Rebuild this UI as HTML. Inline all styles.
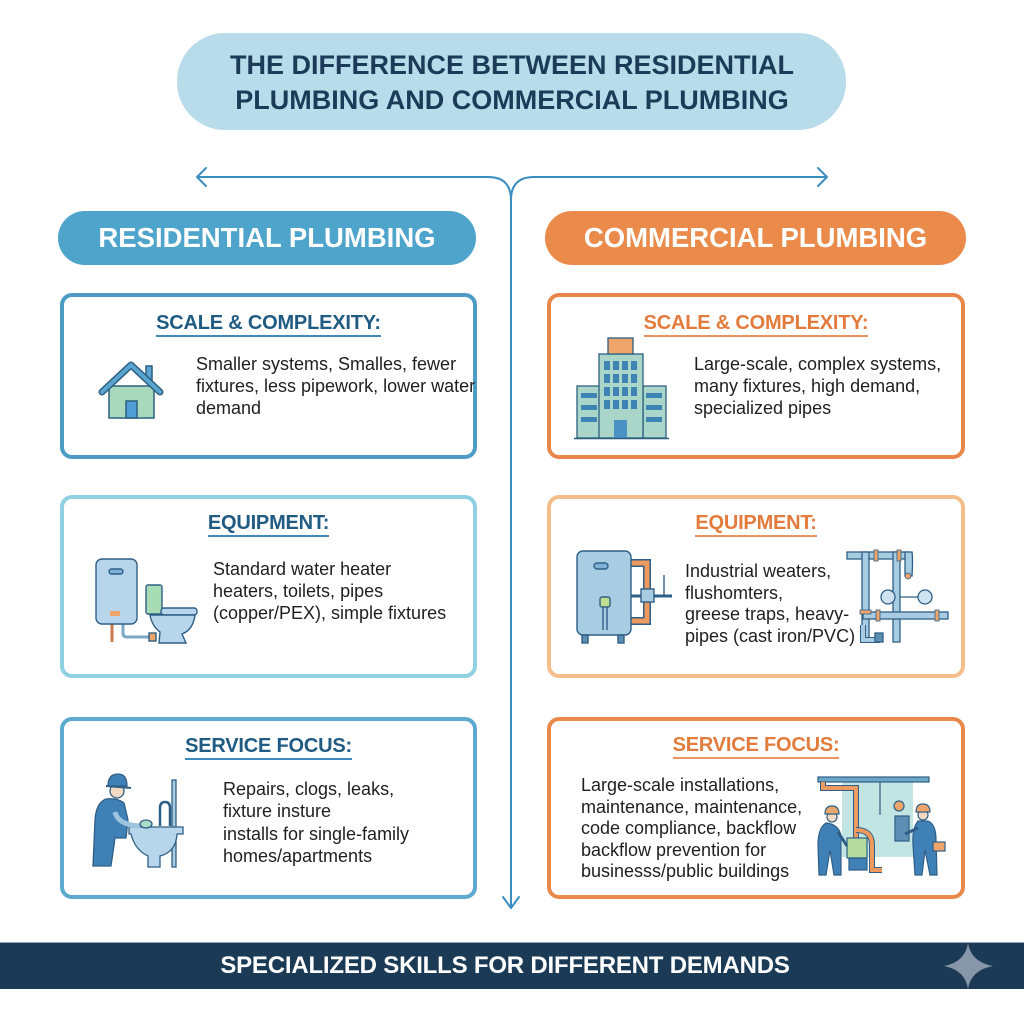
<!DOCTYPE html>
<html>
<head>
<meta charset="utf-8">
<style>
  html, body { margin:0; padding:0; }
  body { width:1024px; height:1024px; overflow:hidden; background:#ffffff; position:relative; font-family:"Liberation Sans", "DejaVu Sans", sans-serif; }
  .abs { position:absolute; }
  .pill { position:absolute; border-radius:30px; }
  .box { position:absolute; box-sizing:border-box; background:#fff; border-radius:12px; border-style:solid; border-width:4.5px; }
  .hdr { position:absolute; left:0; width:100%; text-align:center; font-weight:bold; font-size:20px; line-height:24px; }
  .hdr span { display:inline-block; border-bottom:2px solid; letter-spacing:-0.2px; }
  .txt { position:absolute; font-size:18px; line-height:22px; color:#1f1f1f; white-space:nowrap; }
  .lb .hdr { color:#1f5b82; }
  .lb .hdr span { border-color:#3d8abb; }
  .rb .hdr { color:#e27b3c; }
  .rb .hdr span { border-color:#ea9460; }
</style>
</head>
<body>

<!-- Title pill -->
<div class="pill" style="left:177px; top:33px; width:669px; height:97px; border-radius:48px; background:#b8dcea;"></div>
<div class="abs" style="left:0; top:48px; width:1024px; text-align:center; font-weight:bold; font-size:27px; line-height:35px; color:#1b3b58;">THE DIFFERENCE BETWEEN RESIDENTIAL<br>PLUMBING AND COMMERCIAL PLUMBING</div>

<!-- Section pills -->
<div class="pill" style="left:58px; top:211px; width:418px; height:54px; border-radius:27px; background:#4ea4ca;"></div>
<div class="abs" style="left:58px; top:211px; width:418px; height:54px; line-height:54px; text-align:center; color:#fff; font-weight:bold; font-size:27.5px;">RESIDENTIAL PLUMBING</div>
<div class="pill" style="left:545px; top:211px; width:421px; height:54px; border-radius:27px; background:#ea8b4b;"></div>
<div class="abs" style="left:545px; top:211px; width:421px; height:54px; line-height:54px; text-align:center; color:#fff; font-weight:bold; font-size:27.5px;">COMMERCIAL PLUMBING</div>

<!-- Left boxes -->
<div class="box lb" style="left:60px; top:293px; width:417px; height:166px; border-color:#4d9cc6;">
  <div class="hdr" style="top:13.5px;"><span>SCALE &amp; COMPLEXITY:</span></div>
</div>
<div class="box lb" style="left:60px; top:495px; width:417px; height:183px; border-color:#8fd0e2;">
  <div class="hdr" style="top:11.5px;"><span>EQUIPMENT:</span></div>
</div>
<div class="box lb" style="left:60px; top:717px; width:417px; height:182px; border-color:#5ea9d0;">
  <div class="hdr" style="top:12.5px;"><span>SERVICE FOCUS:</span></div>
</div>

<!-- Right boxes -->
<div class="box rb" style="left:547px; top:293px; width:418px; height:166px; border-color:#e8874b;">
  <div class="hdr" style="top:13.5px;"><span>SCALE &amp; COMPLEXITY:</span></div>
</div>
<div class="box rb" style="left:547px; top:495px; width:418px; height:183px; border-color:#f4bd8c;">
  <div class="hdr" style="top:11.5px;"><span>EQUIPMENT:</span></div>
</div>
<div class="box rb" style="left:547px; top:717px; width:418px; height:182px; border-color:#e98a4c;">
  <div class="hdr" style="top:11.5px;"><span>SERVICE FOCUS:</span></div>
</div>

<!-- Body text -->
<div class="txt" style="left:196px; top:353px;">Smaller systems, Smalles, fewer<br>fixtures, less pipework, lower water<br>demand</div>
<div class="txt" style="left:213px; top:558px;">Standard water heater<br>heaters, toilets, pipes<br>(copper/PEX), simple fixtures</div>
<div class="txt" style="left:223px; top:778px; line-height:22.3px;">Repairs, clogs, leaks,<br>fixture insture<br>installs for single-family<br>homes/apartments</div>

<div class="txt" style="left:694px; top:353px;">Large-scale, complex systems,<br>many fixtures, high demand,<br>specialized pipes</div>
<div class="txt" style="left:685px; top:561px; line-height:21.7px;">Industrial weaters,<br>flushomters,<br>greese traps, heavy-<br>pipes (cast iron/PVC)</div>
<div class="txt" style="left:581px; top:775px; line-height:21.5px;">Large-scale installations,<br>maintenance, maintenance,<br>code compliance, backflow<br>backflow prevention for<br>businesss/public buildings</div>

<!-- Bottom bar -->
<div class="abs" style="left:0; top:942px; width:1024px; height:47px; background:#1b3a56; border-top:1px solid #8eaac0; box-sizing:border-box;"></div>
<div class="abs" style="left:0; top:942px; width:1010px; height:47px; line-height:48px; text-align:center; color:#fff; font-weight:bold; font-size:24px; letter-spacing:-0.2px;">SPECIALIZED SKILLS FOR DIFFERENT DEMANDS</div>

<!-- Graphics -->
<svg class="abs" style="left:0; top:0;" width="1024" height="1024" viewBox="0 0 1024 1024">
  <!-- connectors -->
  <g fill="none" stroke="#3b8ec0" stroke-width="2" stroke-linecap="round" stroke-linejoin="round">
    <path d="M198 177 H488 Q511 177 511 200"/>
    <path d="M826 177 H534 Q511 177 511 200"/>
    <path d="M511 200 V908"/>
    <polyline points="206,168 197,177 206,186"/>
    <polyline points="818,168 827,177 818,186"/>
    <polyline points="503,897 511,908 519,897"/>
  </g>

  <!-- sparkle -->
  <path d="M968 943 Q971 962 993 966 Q971 970 968 989 Q965 970 944 966 Q965 962 968 943 Z" fill="#8796a8"/>

  <!-- House icon -->
  <g stroke="#2c5f80" stroke-width="1.5">
    <rect x="146" y="366" width="6" height="14" fill="#5aa5d0"/>
    <rect x="109" y="386" width="45" height="32" fill="#a9d9bc"/>
    <rect x="126" y="401" width="11" height="17" fill="#4f9fd6"/>
  </g>
  <polyline points="102,392 131,365 160,392" fill="none" stroke="#2c5f80" stroke-width="7" stroke-linejoin="round" stroke-linecap="round"/>
  <polyline points="102,392 131,365 160,392" fill="none" stroke="#5aa5d0" stroke-width="4" stroke-linejoin="round" stroke-linecap="round"/>

  <!-- Building icon -->
  <g stroke="#2c5f7f" stroke-width="1.3">
    <rect x="577" y="386" width="23" height="52" fill="#a9d6c9"/>
    <rect x="643" y="386" width="23" height="52" fill="#a9d6c9"/>
    <rect x="599" y="354" width="44" height="84" fill="#a9d6c9"/>
    <rect x="608" y="338" width="25" height="16" fill="#eea56c"/>
  </g>
  <g fill="#3d84b5">
    <rect x="604" y="361" width="6" height="9"/><rect x="613" y="361" width="6" height="9"/><rect x="622" y="361" width="6" height="9"/><rect x="631" y="361" width="6" height="9"/>
    <rect x="604" y="374" width="6" height="9"/><rect x="613" y="374" width="6" height="9"/><rect x="622" y="374" width="6" height="9"/><rect x="631" y="374" width="6" height="9"/>
    <rect x="604" y="387" width="6" height="9"/><rect x="613" y="387" width="6" height="9"/><rect x="622" y="387" width="6" height="9"/><rect x="631" y="387" width="6" height="9"/>
    <rect x="604" y="400" width="6" height="9"/><rect x="613" y="400" width="6" height="9"/><rect x="622" y="400" width="6" height="9"/><rect x="631" y="400" width="6" height="9"/>
    <rect x="581" y="393" width="16" height="5"/><rect x="581" y="405" width="16" height="5"/><rect x="581" y="417" width="16" height="5"/>
    <rect x="646" y="393" width="16" height="5"/><rect x="646" y="405" width="16" height="5"/><rect x="646" y="417" width="16" height="5"/>
    <rect x="614" y="420" width="13" height="18" fill="#4a91c4"/>
  </g>
  <line x1="574" y1="438.5" x2="669" y2="438.5" stroke="#2c5f7f" stroke-width="1.5"/>

  <!-- Left equipment: water heater + toilet -->
  <g stroke="#2f5f86" stroke-width="1.4">
    <line x1="112" y1="623" x2="112" y2="642" stroke="#c77b4a" stroke-width="3"/>
    <path d="M123 623 V633 Q123 637 127 637 H152" fill="none" stroke="#7aa7c8" stroke-width="3"/>
    <rect x="96" y="559" width="41" height="65" rx="6" fill="#b7d6ec"/>
    <rect x="109" y="569" width="14" height="5" rx="2.5" fill="#7fb1d6"/>
    <rect x="110" y="611" width="10" height="5" fill="#eea56c" stroke="none"/>
    <rect x="146" y="585" width="16" height="29" rx="2" fill="#a8dcb5"/>
    <rect x="161" y="608" width="36" height="7" rx="3" fill="#b7d6ec"/>
    <path d="M150 615 H195 Q193 630 182 634 L186 643 H159 L160 632 Q152 626 150 615 Z" fill="#b7d6ec"/>
    <rect x="149" y="633" width="7" height="8" fill="#eea56c"/>
  </g>

  <!-- Right equipment: industrial heater -->
  <g stroke="#2f5f86" stroke-width="1.4">
    <path d="M630 563 H647 V621 H630" fill="none" stroke="#2f5f86" stroke-width="8"/>
    <path d="M630 563 H647 V621 H630" fill="none" stroke="#ee9a5f" stroke-width="5"/>
    <line x1="630" y1="596" x2="672" y2="596" stroke-width="3"/>
    <line x1="664" y1="575" x2="664" y2="596"/>
    <rect x="641" y="589" width="13" height="13" fill="#a8cde3"/>
    <rect x="577" y="551" width="54" height="84" rx="6" fill="#a8cde3"/>
    <rect x="594" y="563" width="14" height="6" rx="3" fill="#7fb1d6"/>
    <rect x="600" y="597" width="10" height="10" rx="2" fill="#c0dc8e"/>
    <path d="M603 607 V630 M607 607 V630" fill="none"/>
    <rect x="582" y="635" width="6" height="8" fill="#5d8fb5"/>
    <rect x="618" y="635" width="6" height="8" fill="#5d8fb5"/>
  </g>

  <!-- Right equipment: pipe assembly -->
  <g stroke="#2f5f86" stroke-width="1.3" fill="#a8cde3">
    <rect x="847" y="552" width="62" height="7"/>
    <path d="M905 552 H912 Q913 559 912 576 H905 Z"/>
    <rect x="862" y="552" width="7" height="90"/>
    <rect x="893" y="552" width="7" height="90"/>
    <rect x="863" y="612" width="85" height="7"/>
    <path d="M863 625 V640 H880" fill="none" stroke-width="6" stroke="#2f5f86"/>
    <path d="M863 625 V640 H880" fill="none" stroke-width="4" stroke="#a8cde3"/>
    <circle cx="888" cy="597" r="7" fill="#cfe4f0"/>
    <circle cx="925" cy="597" r="7" fill="#cfe4f0"/>
    <line x1="900" y1="597" x2="918" y2="597"/>
    <rect x="875" y="633" width="8" height="9" fill="#5d8fb5"/>
  </g>
  <g fill="#eea56c" stroke="#2f5f86" stroke-width="0.8">
    <rect x="874" y="550" width="4" height="11"/><rect x="897" y="550" width="4" height="11"/>
    <rect x="860" y="610" width="11" height="4"/><rect x="876" y="610" width="4" height="11"/><rect x="935" y="610" width="4" height="11"/>
    <circle cx="908" cy="576" r="3"/>
  </g>

  <!-- Plumber at sink -->
  <g stroke="#2f5f86" stroke-width="1.3">
    <rect x="172" y="780" width="4" height="87" fill="#a8cde3"/>
    <path d="M160 826 V808 Q160 802 165 802 Q170 802 170 808 V826" fill="none" stroke-width="2.5"/>
    <path d="M129 827 H183 V834 H177 Q176 852 160 856 V867 H148 V856 Q135 850 131 834 H129 Z" fill="#b7d6ec"/>
    <circle cx="117" cy="791" r="7" fill="#f2d9c4"/>
    <path d="M108 786 Q108 774 118 774 Q127 774 127 786 Z" fill="#3f80b6"/>
    <line x1="106" y1="786" x2="131" y2="788" stroke-width="2"/>
    <path d="M106 799 Q96 803 95 820 L93 866 H111 L115 838 L126 838 L128 820 L124 803 Q118 798 106 799 Z" fill="#3f80b6"/>
    <path d="M115 812 Q118 825 140 826" fill="none" stroke="#9cc4de" stroke-width="5"/>
    <ellipse cx="146" cy="824" rx="6" ry="4" fill="#a8dcc5"/>
  </g>

  <!-- Commercial service scene -->
  <g stroke="#2f5f86" stroke-width="1.2">
    <rect x="842" y="782" width="71" height="75" fill="#c2e4e3" stroke="none"/>
    <rect x="818" y="777" width="111" height="5" fill="#6ea6c8"/>
    <path d="M823 782 V788 H856 V860" fill="none" stroke="#2f5f86" stroke-width="6"/>
    <path d="M823 782 V788 H856 V860" fill="none" stroke="#ee9a5f" stroke-width="4"/>
    <path d="M856 830 Q872 830 872 845 V870 H882" fill="none" stroke="#2f5f86" stroke-width="6"/>
    <path d="M856 830 Q872 830 872 845 V870 H882" fill="none" stroke="#ee9a5f" stroke-width="4"/>
    <line x1="880" y1="782" x2="880" y2="815"/>
    <rect x="895" y="816" width="14" height="25" fill="#5d8fb5"/>
    <rect x="847" y="838" width="20" height="20" fill="#b6dba0"/>
    <rect x="849" y="858" width="18" height="12" fill="#3f80b6"/>
    <circle cx="899" cy="806" r="5" fill="#eea56c"/>
    <!-- left worker -->
    <circle cx="832" cy="817" r="5" fill="#f2d9c4"/>
    <path d="M825 814 Q825 806 832 806 Q839 806 839 814 Z" fill="#eea56c"/>
    <path d="M826 823 Q818 828 818 845 L819 875 H826 L830 850 L834 875 H841 L841 835 Q838 824 826 823 Z" fill="#3f80b6"/>
    <line x1="838" y1="832" x2="847" y2="846" stroke-width="3"/>
    <!-- right worker -->
    <circle cx="923" cy="815" r="5" fill="#f2d9c4"/>
    <path d="M916 812 Q916 804 923 804 Q930 804 930 812 Z" fill="#eea56c"/>
    <path d="M918 821 Q912 828 913 845 L915 875 H922 L925 850 L930 875 H937 L936 840 Q936 824 928 821 Z" fill="#3f80b6"/>
    <line x1="918" y1="828" x2="905" y2="834" stroke-width="3"/>
    <rect x="933" y="842" width="12" height="9" fill="#eea56c"/>
  </g>
</svg>

</body>
</html>
